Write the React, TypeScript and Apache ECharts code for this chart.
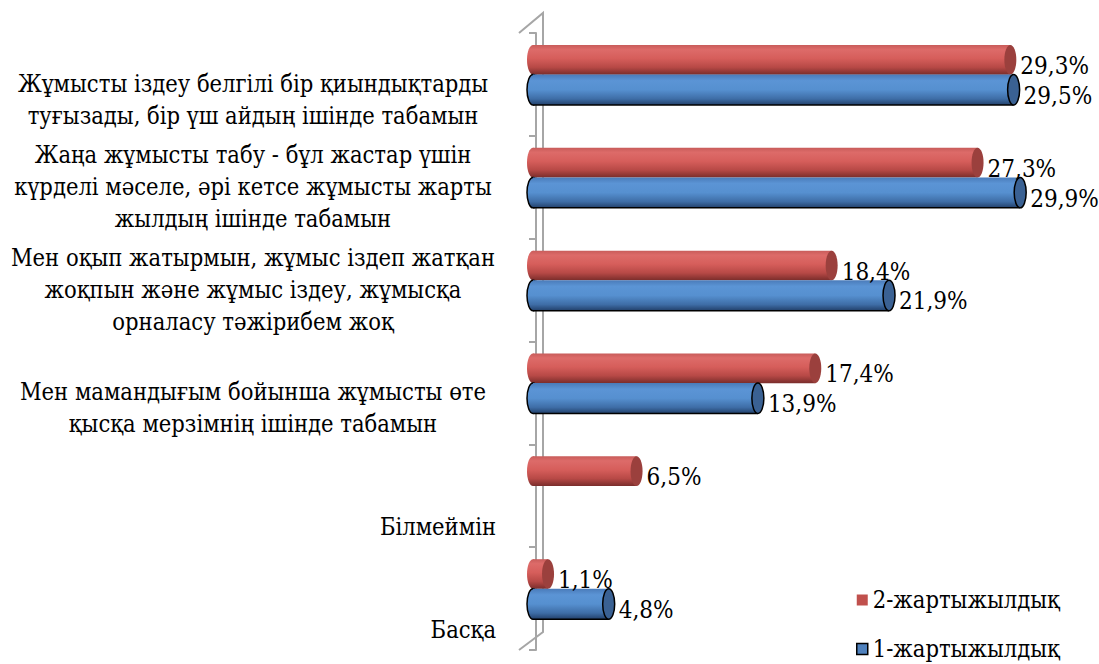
import React, { useEffect, useRef } from "react";
import * as echarts from "echarts";

const categories: string[] = [
  "Жұмысты іздеу белгілі бір қиындықтарды\nтуғызады, бір үш айдың ішінде табамын",
  "Жаңа жұмысты табу - бұл жастар үшін\nкүрделі мәселе, әрі кетсе жұмысты жарты\nжылдың ішінде табамын",
  "Мен оқып жатырмын, жұмыс іздеп жатқан\nжоқпын және жұмыс іздеу, жұмысқа\nорналасу тәжірибем жоқ",
  "Мен мамандығым бойынша жұмысты өте\nқысқа мерзімнің ішінде табамын",
  "Білмеймін",
  "Басқа",
];

const seriesNames: string[] = ["2-жартыжылдық", "1-жартыжылдық"];
const values2: (number | null)[] = [29.3, 27.3, 18.4, 17.4, 6.5, 1.1];
const values1: (number | null)[] = [29.5, 29.9, 21.9, 13.9, null, 4.8];

const FONT = "DejaVu Serif Condensed, DejaVu Serif";

const redGrad = () =>
  new echarts.graphic.LinearGradient(0, 0, 0, 1, [
    { offset: 0, color: "#c85c5a" },
    { offset: 0.15, color: "#dd6b69" },
    { offset: 0.45, color: "#d65e5b" },
    { offset: 0.75, color: "#b74946" },
    { offset: 1, color: "#7a2d2b" },
  ]);
const blueGrad = () =>
  new echarts.graphic.LinearGradient(0, 0, 0, 1, [
    { offset: 0, color: "#4a7bb9" },
    { offset: 0.2, color: "#5b94d5" },
    { offset: 0.5, color: "#5690d0" },
    { offset: 0.8, color: "#3e6da6" },
    { offset: 1, color: "#22406a" },
  ]);

function makeRender(kind: "red" | "blue") {
  return (params: any, api: any) => {
    const v = api.value(0);
    const c = api.value(1);
    if (v === null || v === undefined || isNaN(v)) return null;
    const zero = api.coord([0, c]);
    const end = api.coord([v, c]);
    const band = api.size([0, 1])[1];
    const bandTop = zero[1] - band / 2;
    const top = bandTop + band * (kind === "red" ? 0.117 : 0.404);
    const h = band * (kind === "red" ? 0.288 : 0.296);
    const cy = top + h / 2;
    const rx = 6;
    const leftC = zero[0] - 3;
    const rightC = end[0] - rx;
    const isBlue = kind === "blue";
    const children: any[] = [
      {
        type: "ellipse",
        shape: { cx: leftC, cy, rx, ry: h / 2 },
        style: {
          fill: isBlue ? blueGrad() : redGrad(),
          stroke: isBlue ? "#000" : null,
          lineWidth: 1.5,
        },
      },
      {
        type: "rect",
        shape: { x: leftC, y: top, width: Math.max(0, rightC - leftC), height: h },
        style: { fill: isBlue ? blueGrad() : redGrad() },
      },
    ];
    if (isBlue) {
      children.push({
        type: "line",
        shape: { x1: leftC, y1: top + h, x2: rightC, y2: top + h },
        style: { stroke: "#000", lineWidth: 1.5 },
      });
    }
    children.push({
      type: "ellipse",
      shape: { cx: rightC, cy, rx, ry: h / 2 },
      style: {
        fill: isBlue ? "#3a6193" : "#9b403d",
        stroke: isBlue ? "#000" : null,
        lineWidth: 1.5,
      },
    });
    children.push({
      type: "text",
      x: end[0] + 4,
      y: cy + 6,
      z2: 100,
      style: {
        text: String(v).replace(".", ",") + "%",
        fontFamily: FONT,
        fontSize: 24,
        fill: "#000",
        align: "left",
        verticalAlign: "middle",
      },
    });
    return { type: "group", children };
  };
}

export default function App() {
  const ref = useRef<HTMLDivElement>(null);
  useEffect(() => {
    document.body.style.margin = "0";
    const chart = echarts.init(ref.current!, null, { renderer: "svg" });
    const wallColor = "#a6a6a6";
    const option: any = {
      animation: false,
      backgroundColor: "#fff",
      textStyle: { fontFamily: FONT },
      grid: { left: 536, top: 33, bottom: 14, right: 22, containLabel: false },
      xAxis: { type: "value", min: 0, max: 33, show: false },
      yAxis: [
        {
          type: "category",
          position: "left",
          inverse: true,
          data: categories,
          offset: 17,
          axisLine: { show: true, lineStyle: { color: wallColor, width: 2 } },
          axisTick: { show: true, length: 7, lineStyle: { color: wallColor, width: 2 } },
          axisLabel: { show: false },
          splitLine: { show: false },
        },
        {
          type: "category",
          position: "left",
          offset: 0,
          inverse: true,
          boundaryGap: false,
          data: ["", ...categories],
          axisLine: { show: false },
          axisTick: { show: false },
          splitLine: { show: false },
          axisLabel: {
            interval: 0,
            margin: 40,
            align: "right",
            verticalAlign: "bottom",
            padding: [0, 0, 4, 0],
            fontFamily: FONT,
            fontSize: 23.5,
            lineHeight: 32,
            color: "#000",
            formatter: (val: string) => {
              if (!val) return "";
              const lines = val.split("\n");
              if (lines.length === 1) return val;
              return lines.map((l) => `{c|${l}}`).join("\n");
            },
            rich: {
              c: {
                width: 486,
                align: "center",
                fontFamily: FONT,
                fontSize: 23.5,
                lineHeight: 32,
                color: "#000",
              },
            },
          },
        },
      ],
      legend: {
        orient: "vertical",
        left: 856,
        top: 588,
        height: 140,
        padding: 0,
        itemGap: 25,
        itemWidth: 11,
        itemHeight: 11,
        selectedMode: false,
        icon: "rect",
        textStyle: { fontFamily: FONT, fontSize: 23.5, lineHeight: 24, color: "#000" },
        data: [
          { name: seriesNames[0], itemStyle: { color: "#c0504d", borderWidth: 0 } },
          {
            name: seriesNames[1],
            itemStyle: { color: "#4f81bd", borderColor: "#000", borderWidth: 1.5 },
          },
        ],
      },
      graphic: [
        {
          type: "polyline",
          z: 0,
          shape: { points: [[519, 33], [543, 13], [543, 632], [519, 650]] },
          style: { stroke: wallColor, lineWidth: 2, fill: null },
        },
      ],
      series: [
        {
          name: seriesNames[0],
          type: "custom",
          renderItem: makeRender("red"),
          itemStyle: { color: "#c0504d" },
          encode: { x: 0, y: 1 },
          data: values2.map((v, i) => [v, i]),
          z: 3,
        },
        {
          name: seriesNames[1],
          type: "custom",
          renderItem: makeRender("blue"),
          itemStyle: { color: "#4f81bd", borderColor: "#000", borderWidth: 1.5 },
          encode: { x: 0, y: 1 },
          data: values1.map((v, i) => [v, i]),
          z: 3,
        },
      ],
    };
    chart.setOption(option);
    return () => chart.dispose();
  }, []);
  return (
    <div
      ref={ref}
      style={{ position: "fixed", left: 0, top: 0, width: 1099, height: 664 }}
    />
  );
}
